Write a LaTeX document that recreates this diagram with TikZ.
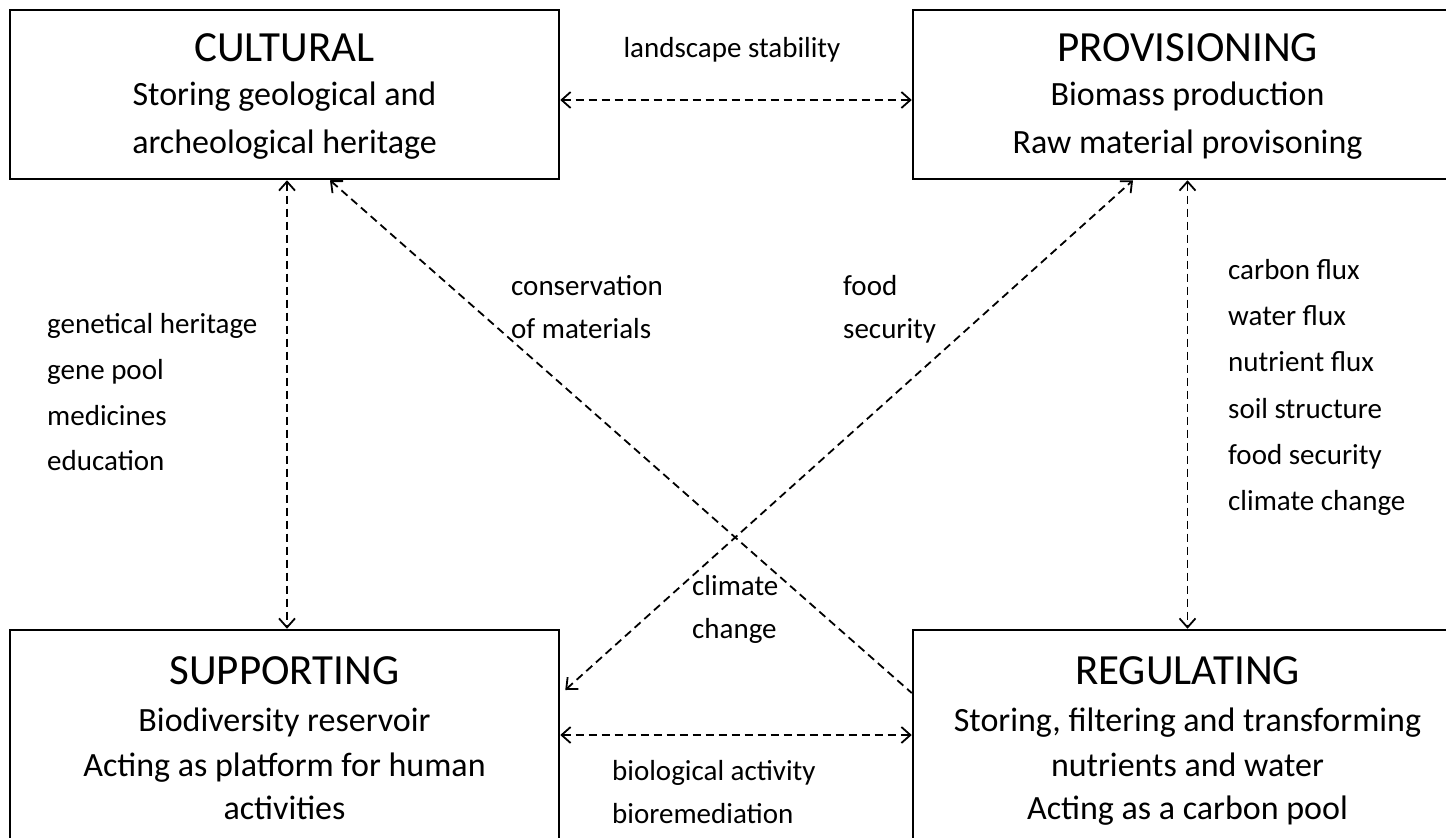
\documentclass[tikz,border=0pt]{standalone}
\usepackage{fontspec}
\setmainfont{Carlito}
\usetikzlibrary{arrows.meta}
\begin{document}
\begin{tikzpicture}[x=1pt,y=-1pt,
 box/.style={draw=black,line width=2.5pt,rectangle,minimum width=549pt,inner sep=0pt},
 topbox/.style={box,minimum height=169pt},
 botbox/.style={box,minimum height=220pt},
 ttl/.style={font=\fontsize{43}{50}\selectfont,anchor=base,inner sep=0pt},
 body/.style={font=\fontsize{34}{40}\selectfont,anchor=base,inner sep=0pt},
 lbl/.style={font=\fontsize{29}{34}\selectfont,anchor=base west,inner sep=0pt},
 link/.style={line width=1.8pt,dash pattern=on 8pt off 5pt,{Straight Barb[length=9pt,width=16pt]}-{Straight Barb[length=9pt,width=16pt]}},
 halflink/.style={line width=1.8pt,dash pattern=on 8pt off 5pt,{Straight Barb[length=9pt,width=16pt]}-},
]
\useasboundingbox (0,0) rectangle (1446,838);
\fill[white] (0,0) rectangle (1446,838);

% boxes
\node[topbox] (cult) at (284.5,94.5) {};
\node[topbox] (prov) at (1187.5,94.5) {};
\node[botbox] (supp) at (284.5,740) {};
\node[botbox] (reg) at (1187.5,740) {};

% box texts
\node[ttl] (cultT) at (284.5,61) {CULTURAL};
\node[body] (cultA) at (284.5,105) {Storing geological and};
\node[body] (cultB) at (284.5,153) {archeological heritage};

\node[ttl] (provT) at (1187.5,61) {PROVISIONING};
\node[body] (provA) at (1187.5,105) {Biomass production};
\node[body] (provB) at (1187.5,153) {Raw material provisoning};

\node[ttl] (suppT) at (284.5,684) {SUPPORTING};
\node[body] (suppA) at (284.5,731) {Biodiversity reservoir};
\node[body] (suppB) at (284.5,776) {Acting as platform for human};
\node[body] (suppC) at (284.5,819) {activities};

\node[ttl] (regT) at (1187.5,684) {REGULATING};
\node[body] (regA) at (1187.5,731) {Storing, filtering and transforming};
\node[body] (regB) at (1187.5,776) {nutrients and water};
\node[body] (regC) at (1187.5,819) {Acting as a carbon pool};

% connectors
\draw[link] ([yshift=-5.5pt]cult.east) -- ([yshift=-5.5pt]prov.west);
\draw[link] ([xshift=2.5pt]cult.south) -- ([xshift=2.5pt]supp.north);
\draw[link] (prov.south) -- (reg.north);
\draw[link] ([yshift=5pt]supp.east) -- ([yshift=5pt]reg.west);
\draw[halflink] ([xshift=45.5pt]cult.south) -- ([yshift=47pt]reg.west);
\draw[link] ([xshift=5pt,yshift=50pt]supp.east) -- ([xshift=-54.5pt]prov.south);

% labels
\node[lbl,anchor=base] (l1) at (732,57) {landscape stability};

\node[lbl] (g1) at (47,333) {genetical heritage};
\node[lbl] (g2) at (47,379) {gene pool};
\node[lbl] (g3) at (47,425) {medicines};
\node[lbl] (g4) at (47,470) {education};

\node[lbl] (r1) at (1228,279) {carbon flux};
\node[lbl] (r2) at (1228,325) {water flux};
\node[lbl] (r3) at (1228,371) {nutrient flux};
\node[lbl] (r4) at (1228,418) {soil structure};
\node[lbl] (r5) at (1228,464) {food security};
\node[lbl] (r6) at (1228,510) {climate change};

\node[lbl] (c1) at (511,295) {conservation};
\node[lbl] (c2) at (511,338) {of materials};

\node[lbl] (f1) at (843,295) {food};
\node[lbl] (f2) at (843,338) {security};

\node[lbl] (k1) at (692,595) {climate};
\node[lbl] (k2) at (692,638) {change};

\node[lbl] (b1) at (612,780) {biological activity};
\node[lbl] (b2) at (612,823) {bioremediation};
\end{tikzpicture}
\end{document}
